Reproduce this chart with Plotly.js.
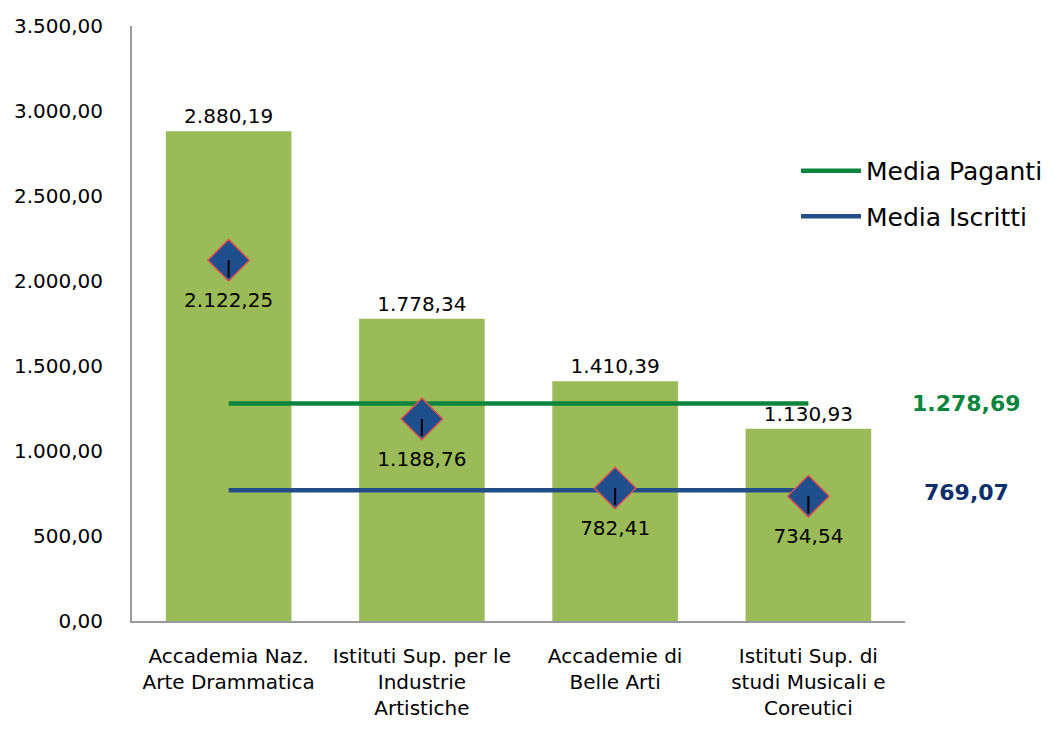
<!DOCTYPE html>
<html>
<head>
<meta charset="utf-8">
<script src="https://cdn.plot.ly/plotly-3.0.1.min.js"></script>
<style>html,body{margin:0;padding:0;background:#fff;}#chart{width:1055px;height:729px;}</style>
</head>
<body>
<div id="chart"></div>
<script>
const categories = [
  "Accademia Naz.<br>Arte Drammatica",
  "Istituti Sup. per le<br>Industrie<br>Artistiche",
  "Accademie di<br>Belle Arti",
  "Istituti Sup. di<br>studi Musicali e<br>Coreutici"
];
const pagantiValues = [2880.19, 1778.34, 1410.39, 1130.93];
const iscrittiValues = [2122.25, 1188.76, 782.41, 734.54];
const mediaPaganti = 1278.69;
const mediaIscritti = 769.07;
const yTicks = [0, 500, 1000, 1500, 2000, 2500, 3000, 3500];

const FONT = "'DejaVu Sans', 'Open Sans', sans-serif";

const traces = [
  {
    type: 'bar', x: categories, y: pagantiValues,
    marker: {color: '#9BBB59'}, width: 0.65,
    texttemplate: '%{y:,.2f}', textposition: 'outside', cliponaxis: false,
    textfont: {size: 20, color: '#000', family: FONT},
    showlegend: false, hoverinfo: 'x+y'
  },
  {
    type: 'scatter', mode: 'lines', name: 'Media Paganti', legendgroup: 'a',
    x: categories, y: categories.map(() => mediaPaganti),
    line: {color: '#0B843D', width: 4.5}
  },
  {
    type: 'scatter', mode: 'lines', name: 'Media Iscritti', legendgroup: 'b',
    x: categories, y: categories.map(() => mediaIscritti),
    line: {color: '#234D87', width: 4.5}
  },
  {
    type: 'scatter', mode: 'markers', x: categories, y: iscrittiValues,
    marker: {symbol: 'diamond', size: 32, color: '#1F4E8C', line: {color: '#E0514F', width: 1.5}},
    showlegend: false, cliponaxis: false
  },
  {
    type: 'scatter', mode: 'markers+text', x: categories, y: iscrittiValues,
    marker: {size: 50, color: 'rgba(0,0,0,0)'},
    texttemplate: '%{y:,.2f}', textposition: 'bottom center',
    textfont: {size: 20, color: '#000', family: FONT},
    error_y: {type: 'constant', symmetric: false, value: 0, valueminus: 100, color: '#000', thickness: 2, width: 0},
    showlegend: false, hoverinfo: 'skip', cliponaxis: false
  }
];

const layout = {
  width: 1055, height: 729,
  margin: {l: 132, r: 150, t: 26, b: 108, autoexpand: false},
  paper_bgcolor: '#fff', plot_bgcolor: '#fff',
  separators: ',.',
  font: {family: FONT, size: 20, color: '#000'},
  xaxis: {
    type: 'category', range: [-0.5, 3.5], showgrid: false, showline: true, linecolor: '#999', linewidth: 2,
    ticks: '', tickfont: {size: 20, family: FONT}, zeroline: false, ticklabelstandoff: 16
  },
  yaxis: {
    range: [0, 3500], tickvals: yTicks, tickformat: ',.2f',
    showgrid: false, showline: true, linecolor: '#999', linewidth: 2, zeroline: false,
    ticks: '', ticklabelstandoff: 23, tickfont: {size: 20, family: FONT}
  },
  bargap: 0.35,
  legend: {
    x: 0.859, y: 0.795, xanchor: 'left', yanchor: 'top',
    font: {size: 25, family: FONT, color: '#000'},
    bgcolor: 'rgba(0,0,0,0)', itemwidth: 60, tracegroupgap: 10
  },
  annotations: [
    {xref: 'paper', yref: 'y', x: 1.08, y: mediaPaganti, text: '<b>1.278,69</b>', showarrow: false,
     font: {size: 22, color: '#0B843D', family: FONT}, xanchor: 'center', yshift: 0},
    {xref: 'paper', yref: 'y', x: 1.08, y: mediaIscritti, text: '<b>769,07</b>', showarrow: false,
     font: {size: 22, color: '#0D2E6B', family: FONT}, xanchor: 'center', yshift: -2}
  ]
};

Plotly.newPlot('chart', traces, layout, {displayModeBar: false, staticPlot: true});
</script>
</body>
</html>
